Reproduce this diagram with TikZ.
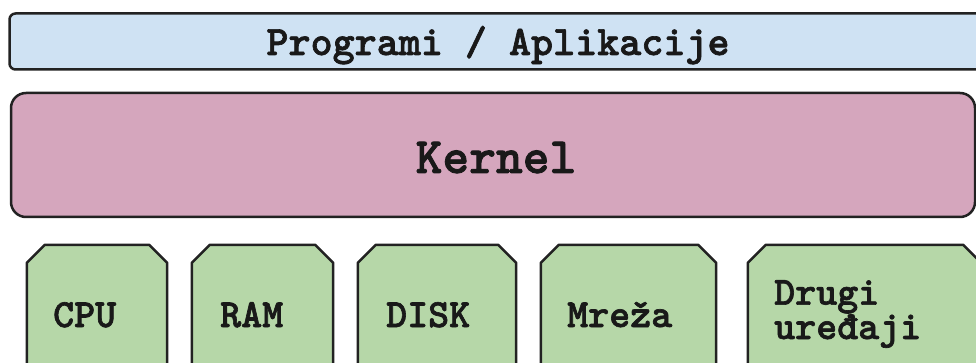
\documentclass[tikz,border=0pt]{standalone}
\usepackage{fontspec}
\newfontfamily\slabmono{lmmonolt10-bold}[Extension=.otf, FakeBold=1.6]
\usetikzlibrary{positioning}

\definecolor{appblue}{HTML}{CFE2F3}
\definecolor{kernpink}{HTML}{D5A6BD}
\definecolor{devgreen}{HTML}{B6D7A8}
\definecolor{edge}{HTML}{222222}

\begin{document}
\begin{tikzpicture}[
  x=1pt, y=-1pt,
  layer/.style={
    draw=edge,
    line width=2.5pt,
    rounded corners=6pt
  },
  device/.style={
    inner sep=0pt,
    minimum height=175pt
  },
  devline/.style={
    draw=edge,
    line width=2.5pt,
    fill=devgreen,
    line join=round
  },
  devtext/.style={
    font=\slabmono\fontsize{40}{33}\selectfont,
    text=black!90,
    inner sep=0pt,
    align=left,
    anchor=base west
  }
]

\useasboundingbox (0,0) rectangle (976,363);
\fill[white] (0,0) rectangle (976,363);
\clip (0,0) rectangle (976,363);

% Layers
\node[layer, fill=appblue, minimum width=975pt, minimum height=56pt] (apps) at (497,41.5) {};
\node[layer, fill=kernpink, rounded corners=15pt, minimum width=964pt, minimum height=124pt] (kernel) at (493,155) {};

\node[font=\slabmono\fontsize{42}{50}\selectfont, text=black!90, inner sep=0pt, anchor=base] (appstxt) at (498,55) {Programi / Aplikacije};
\node[font=\slabmono\fontsize{51}{60}\selectfont, text=black!90, inner sep=0pt, anchor=base] (kerneltxt) at (496,173) {Kernel};

% Hardware
\node[device, minimum width=140pt] (cpu) at (97,332.5) {};
\node[device, minimum width=141pt] (ram) at (262.5,332.5) {};
\node[device, minimum width=158pt] (disk) at (437,332.5) {};
\node[device, minimum width=175pt] (net) at (628.5,332.5) {};
\node[device, minimum width=233pt] (other) at (864.5,332.5) {};

% chamfered tops
\foreach \n in {cpu,ram,disk,net,other}
  \draw[devline] (\n.south west) -- ([yshift=-18pt]\n.north west)
    -- ([xshift=18pt]\n.north west) -- ([xshift=-18pt]\n.north east)
    -- ([yshift=-18pt]\n.north east) -- (\n.south east);

\node[devtext] (cputxt) at (53,327) {CPU};
\node[devtext] (ramtxt) at (220,327) {RAM};
\node[devtext] (disktxt) at (386,327) {DISK};
\node[devtext] (nettxt) at (567,327) {Mreža};
\node[devtext] (othertxt) at (774,339) {Drugi\\uređaji};

\end{tikzpicture}
\end{document}
